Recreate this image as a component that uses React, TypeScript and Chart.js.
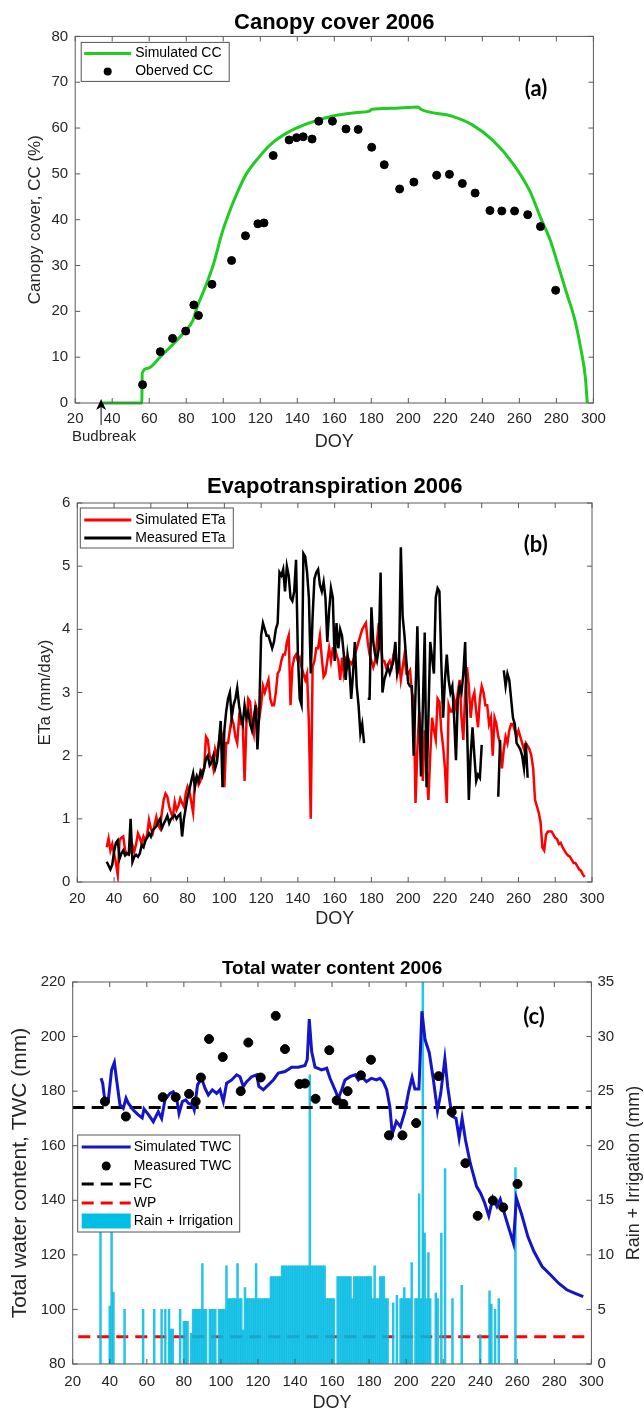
import React, { useEffect, useRef } from 'react';
import { Chart, registerables } from 'chart.js';

Chart.register(...registerables);

const FONT = '"Liberation Sans", Arial, Helvetica, sans-serif';
const TICK = '#262626';
const BOX = '#5a5a5a';
const GREEN = '#1fcc1f';
const BLUE = '#1414c8';
const CYAN = 'rgba(0,186,226,0.85)';

// ---------- (a) Canopy cover ----------
const ccSimDoy = [35, 56, 56.2, 59.3, 66, 72.6, 79.2, 83.7, 85.9, 90.3, 94.8, 99.2, 103.6, 108, 112.5, 119.2, 125.8, 134.7, 143.6, 152.5, 161.3, 172.4, 179, 180.2, 190.2, 205.3, 206.8, 223.5, 234.6, 245.7, 256.8, 265.6, 271.4, 276.7, 281.2, 285.6, 290, 293.3, 295.6, 296.7];
const ccSimVal = [0, 0, 6.5, 7.6, 10.1, 12.7, 15.6, 18.1, 21, 25.3, 30.4, 36.9, 42, 46.3, 50, 53.6, 56.5, 59, 60.7, 61.9, 62.8, 63.4, 63.7, 64.1, 64.3, 64.6, 64.1, 62.6, 60.7, 57.3, 52.1, 46.3, 40.5, 35.5, 29.7, 23.9, 18.1, 11.6, 5.8, 0];
const ccObsDoy = [56.4, 66, 72.6, 79.7, 84.1, 86.6, 93.9, 104.5, 112, 118.7, 122, 127, 135.6, 139.6, 143.2, 148, 151.6, 159, 166.3, 172.9, 180.2, 187, 195.3, 203, 215.3, 222.2, 229.2, 236.1, 244.1, 250.5, 257.4, 264.5, 271.4, 279.6];
const ccObsVal = [4.0, 11.2, 14.1, 15.7, 21.4, 19.1, 25.9, 31.1, 36.5, 39.1, 39.3, 54, 57.4, 57.9, 58.1, 57.6, 61.5, 61.5, 59.8, 59.7, 55.8, 52, 46.7, 48.2, 49.7, 49.9, 47.9, 45.8, 42, 41.9, 41.9, 41.1, 38.5, 24.6];
const budbreakDoy = 34;

// ---------- (b) Evapotranspiration ----------
const etSimStart = 36;
const etSim = [
  0.55, 0.69, 0.5, 0.6, 0.45, 0.3, 0.11, 0.66, 0.7, 0.72,
  0.5, 0.45, 0.43, 0.5, 0.58, 0.48, 0.6, 0.77, 0.7, 0.6,
  0.72, 0.65, 0.75, 0.98, 0.85, 0.77, 0.9, 1.03, 0.9, 0.85,
  1.1, 1.3, 1.4, 1.35, 1.19, 1.1, 1.03, 1.27, 1.14, 1.2,
  1.32, 1.25, 1.19, 1.4, 1.51, 1.43, 1.27, 1.1, 1.6, 1.67,
  1.54, 1.6, 1.77, 1.8, 2.3, 2.25, 2.0, 1.95, 1.8, 2.1,
  2.0, 2.2, 2.4, 2.3, 1.5, 2.2, 2.2, 2.4, 2.6, 2.5,
  2.3, 2.2, 2.6, 2.5, 2.5, 1.6, 2.5, 2.9, 2.85, 2.5,
  2.35, 2.8, 2.7, 2.6, 2.8, 3.1, 3.0, 3.1, 3.2, 2.9,
  2.8, 2.8, 3.0, 3.3, 3.35, 3.5, 3.6, 3.6, 3.8, 3.9,
  2.8, 3.4, 3.55, 3.6, 3.5, 3.55, 3.4, 3.3, 3.2, 3.3,
  2.5, 1.0, 3.4, 3.5, 3.7, 3.7, 3.9, 3.55, 3.25, 3.3,
  3.5, 3.7, 3.5, 3.7, 3.7, 3.6, 3.5, 3.2, 3.55, 3.3,
  3.5, 3.4, 3.5, 3.45, 3.5, 3.6, 3.7, 3.8, 3.9, 4.0,
  4.05, 4.1, 3.8, 3.6, 3.5, 3.4, 3.5, 3.8, 4.1, 3.8,
  3.5, 3.5, 3.4, 3.45, 3.5, 3.4, 3.6, 3.7, 3.3, 3.5,
  3.2, 3.4, 3.6, 3.3, 3.3, 3.35, 3.0, 2.9, 1.25, 2.1,
  2.7, 2.2, 1.6, 2.4, 1.8, 1.3, 2.0, 2.6, 2.4, 2.25,
  2.9, 2.85, 2.4, 2.15, 1.8, 1.25, 2.8, 2.7, 2.7, 2.9,
  2.75, 3.0, 3.2, 2.6, 2.25, 3.0, 3.4, 3.1, 2.6, 2.9,
  3.0, 2.7, 2.45, 2.9, 3.1, 3.0, 2.8, 2.8, 2.5, 2.6,
  2.0, 2.6, 2.5, 2.3, 2.2, 1.8, 2.1, 2.3, 2.2, 2.4,
  2.5, 2.5, 2.4, 2.3, 2.4, 2.3, 2.2, 2.1, 2.2, 2.15,
  2.1, 2.0, 1.8, 1.3, 1.2, 1.1, 0.95, 0.55, 0.5, 0.75,
  0.8, 0.8, 0.8, 0.75, 0.7, 0.68, 0.6, 0.62, 0.55, 0.5,
  0.45, 0.42, 0.4, 0.35, 0.3, 0.3, 0.25, 0.2, 0.18, 0.12,
  0.08,
];
const etMeasStart = 36;
const etMeas = [
  0.32, 0.26, 0.2, 0.27, 0.48, 0.62, 0.66, 0.37, 0.45, 0.5,
  0.42, 0.45, 0.44, 1.0, 0.32, 0.4, 0.43, 0.4, 0.45, 0.58,
  0.55, 0.66, 0.7, 0.77, 0.72, 0.82, 0.85, 0.88, 0.95, 1.0,
  0.85, 0.92, 0.98, 1.05, 0.93, 1.0, 1.03, 1.06, 1.0, 1.05,
  1.08, 0.72, 1.0, 1.17, 1.35, 1.46, 1.6, 1.72, 1.5, 1.67,
  1.6, 1.75, 1.68, 1.8, 1.95, 2.0, 1.85, 1.9, 2.0, 1.8,
  1.9, 2.2, 2.55, 1.5, 2.4, 2.7, 2.9, 3.0, 2.6, 2.8,
  2.9, 3.07, 2.8, 2.6, 2.5, 2.8, 2.6, 2.7, 2.5, 2.4,
  2.6, 2.8, 2.1, 2.7, 3.9, 4.1, 4.0, 3.9, 3.9, 3.8,
  3.7, 3.8, 4.0, 4.1, 4.9, 4.85, 4.95, 4.6, 5.0, 4.85,
  4.5, 4.45, 4.6, 5.1, 3.6, 2.9, 2.8, 5.2, 5.15, 4.9,
  4.5, 3.3, 4.2, 4.8, 4.9, 4.95, 4.7, 4.6, 4.75, 4.5,
  3.8, 4.3, 4.65, 4.5, 3.5, 4.1, 3.7, 4.0, 3.9, 3.6,
  3.2, 3.6, 3.4, 2.9, 3.3, 3.8, 3.1, 2.8, 2.35, 2.5,
  2.2, null, 2.9, 2.9, 4.35, 3.8, 3.6, 3.5, 3.7, 4.9,
  3.0, 3.2, 3.3, 3.4, 3.3, 3.4, 3.5, 3.8, 3.3, 3.4,
  5.3, 4.2, 3.9, 3.5, 3.15, 3.1, 3.1, 2.0, 3.0, 4.05,
  2.7, 1.67, 2.8, 3.95, 1.5, 2.6, 3.8, 3.55, 3.3, 4.5,
  4.65, 4.6, 3.5, 2.6, 3.2, 3.6, 3.2, 3.0, 3.1, 2.6,
  1.93, 2.9, 3.1, 3.0, 3.3, 3.8, 2.5, 1.3, 2.0, 2.45,
  2.0, 1.6, 1.7, 1.65, 2.17, null, null, null, null, null,
  null, null, null, 1.35, 2.25, null, 3.35, 3.1, 3.3, 3.2,
  2.9, 2.6, 2.5, 2.2, 2.15, 2.1, 2.0, 1.8, 2.2, 1.65,
];

// ---------- (c) Total water content ----------
const twcSimDoy = [35.3, 36.2, 37.4, 39.2, 41, 42.5, 43.7, 45.5, 47.3, 48.8, 50, 52.7, 55.4, 57.5, 58.5, 60.8, 63.5, 66.2, 68, 69.8, 72.5, 74.3, 76.1, 77.4, 79.2, 81, 82.4, 84.6, 85.6, 87.4, 89.6, 91.4, 93.2, 95.4, 97.7, 99.5, 101.3, 103.1, 105.8, 108.5, 110.3, 112.1, 113.9, 116.6, 119.3, 120.5, 122.9, 125.6, 128.3, 131, 134.6, 138.2, 141.8, 145.4, 146.6, 147.7, 149, 150.8, 154.4, 157.1, 158.9, 161.6, 163.4, 165.2, 167, 169.7, 172.4, 174.2, 176, 178.6, 181.3, 184, 185.8, 187.6, 189.5, 191.2, 192.5, 194.7, 196.9, 199.2, 201.4, 203.2, 204.7, 206.9, 208.5, 210.2, 212.5, 214.7, 216.9, 218.7, 220.9, 222.4, 224.7, 226.9, 228.6, 230.2, 232, 234.6, 238, 240.2, 242.4, 244.6, 246.8, 249, 250.8, 253.5, 255.7, 257.9, 259.5, 262.4, 265.7, 269, 273.4, 277.9, 282.3, 286.7, 291.2, 295.6];
const twcSimVal = [184.7, 182.9, 176.2, 176.5, 187.8, 190.5, 184.1, 175, 173.7, 177.4, 175.6, 173.1, 171.3, 170.2, 173.5, 171.5, 168.8, 172.5, 170, 176.8, 179.2, 179.8, 177.4, 171.9, 176.2, 176.8, 175.6, 175, 173.1, 182.3, 184.7, 181.1, 178.6, 180.5, 179.2, 180.5, 176.2, 182.9, 184.1, 186, 185.3, 181.7, 183.5, 185.3, 186, 181.7, 180.5, 182.3, 184.1, 186.6, 187.2, 188.8, 188.8, 189.4, 191.5, 206.4, 194.5, 188.8, 187.8, 188.4, 184.7, 180.5, 177.4, 180.5, 184.1, 185.3, 186, 184.1, 185.3, 183.5, 184.7, 184.1, 184.7, 183.5, 180.5, 174.3, 164.2, 168.9, 167, 172.2, 179.9, 185, 180.8, 180.8, 209.3, 198.9, 194, 184.2, 172.8, 179.3, 191.9, 181.8, 170.8, 170.1, 162.8, 170.1, 162.2, 153.6, 145.1, 142.6, 139, 134.3, 140.8, 137.7, 140.4, 134.1, 129.2, 124.3, 140.8, 134.7, 126.7, 121.2, 115.7, 112.7, 109.6, 107.2, 105.9, 104.7];
const twcObsDoy = [37.4, 48.7, 68.6, 75.6, 82.8, 86.4, 89.2, 93.6, 101, 110.7, 114.8, 121.5, 129.6, 134.6, 142.4, 145.4, 151.1, 158.5, 162.5, 166.1, 168.4, 175.6, 181, 190.7, 198, 205.4, 217.5, 224.6, 232, 238.6, 246.8, 252.4, 260.1];
const twcObsVal = [176.2, 170.7, 177.8, 177.8, 179, 176.2, 185, 199.1, 192.5, 180, 197.8, 185, 207.6, 195.4, 182.6, 182.8, 177.2, 195, 176.6, 175.3, 180, 185.8, 191.5, 163.8, 163.8, 168.3, 185.5, 172.4, 153.6, 134.3, 139.9, 137.4, 146];
const fieldCapacity = 174;
const wiltingPoint = 90;
const rainStart = 35;
const rainMm = [
  15, 0, 0, 0, 0, 5.3, 15, 6.6, 0, 0,
  0, 0, 0, 5, 0, 0, 0, 0, 0, 0,
  0, 0, 0, 5, 0, 0, 0, 0, 0, 5,
  0, 0, 0, 5, 0, 5, 0, 5, 3.2, 3.2,
  0, 0, 0, 5, 0, 3.9, 3.9, 3.9, 0, 2.8,
  5, 5, 5, 5, 5, 9.2, 5, 5, 0, 5,
  5, 5, 5, 0, 5, 5, 5, 5, 9, 6,
  6, 6, 6, 6, 9.2, 6, 6, 3.1, 7, 6,
  6, 6, 6, 6, 9.2, 6, 6, 6, 6, 6,
  6, 6, 8, 8, 8, 8, 8, 8, 9, 9,
  9, 9, 9, 9, 9, 9, 9, 9, 9, 9,
  9, 9, 9, 26.5, 9, 9, 9, 9, 9, 9,
  9, 9, 6, 6, 6, 6, 6, 0, 8, 8,
  8, 8, 8, 8, 8, 8, 6, 8, 8, 8,
  8, 8, 8, 8, 8, 8, 8, 6, 9, 6,
  6, 8, 8, 8, 6, 6, 0, 0, 5.6, 0,
  6.3, 0, 6, 6, 7, 6, 6, 6, 9.3, 0,
  6, 6, 15.6, 6, 35, 12, 6, 10.2, 6, 0,
  0, 6.5, 6, 0, 12, 0, 17.9, 0, 0, 0,
  6, 0, 0, 0, 0, 7.2, 0, 0, 0, 0,
  0, 0, 0, 0, 0, 2.7, 0, 0, 0, 0,
  6.7, 5.5, 0, 5, 0, 6, 0, 0, 0, 0,
  0, 0, 0, 0, 18, 0,
];

const pairs = (xs: number[], ys: (number | null)[]) => xs.map((x, i) => ({ x, y: ys[i] }));
const series = (start: number, ys: (number | null)[]) => ys.map((y, i) => ({ x: start + i, y }));

// ---------- plugin: MATLAB style frame, inward ticks, legend, labels ----------
const framePlugin: any = {
  id: 'frame',
  afterDraw(chart: any, _args: any, o: any) {
    const { ctx, chartArea: ca, scales } = chart;
    ctx.save();
    const L = 5;
    ctx.strokeStyle = BOX;
    ctx.lineWidth = 1;
    ctx.setLineDash([]);
    ctx.strokeRect(ca.left, ca.top, ca.right - ca.left, ca.bottom - ca.top);
    ctx.beginPath();
    scales.x.ticks.forEach((t: any) => {
      const px = scales.x.getPixelForValue(t.value);
      ctx.moveTo(px, ca.bottom); ctx.lineTo(px, ca.bottom - L);
      ctx.moveTo(px, ca.top); ctx.lineTo(px, ca.top + L);
    });
    scales.y.ticks.forEach((t: any) => {
      const py = scales.y.getPixelForValue(t.value);
      ctx.moveTo(ca.left, py); ctx.lineTo(ca.left + L, py);
      if (!scales.y1) { ctx.moveTo(ca.right, py); ctx.lineTo(ca.right - L, py); }
    });
    if (scales.y1) {
      scales.y1.ticks.forEach((t: any) => {
        const py = scales.y1.getPixelForValue(t.value);
        ctx.moveTo(ca.right, py); ctx.lineTo(ca.right - L, py);
      });
    }
    ctx.stroke();

    // budbreak annotation
    if (o.budbreak) {
      const px = scales.x.getPixelForValue(o.budbreak.doy);
      ctx.fillStyle = '#000';
      ctx.beginPath();
      ctx.moveTo(px, ca.bottom - 4);
      ctx.lineTo(px - 5, ca.bottom + 7);
      ctx.lineTo(px, ca.bottom + 4);
      ctx.lineTo(px + 5, ca.bottom + 7);
      ctx.closePath();
      ctx.fill();
      ctx.strokeStyle = '#333';
      ctx.lineWidth = 1.2;
      ctx.beginPath();
      ctx.moveTo(px, ca.bottom + 4);
      ctx.lineTo(px, ca.bottom + 22);
      ctx.stroke();
      ctx.fillStyle = TICK;
      ctx.font = `15px ${FONT}`;
      ctx.textAlign = 'center';
      ctx.textBaseline = 'middle';
      ctx.fillText(o.budbreak.text, px + 3, ca.bottom + 34);
    }

    // panel tag
    if (o.tag) {
      ctx.fillStyle = '#000';
      ctx.font = `bold 22px Lato, "Open Sans", sans-serif`;
      ctx.textAlign = 'center';
      ctx.textBaseline = 'middle';
      ctx.fillText(o.tag.text, scales.x.getPixelForValue(o.tag.x), scales.y.getPixelForValue(o.tag.y));
    }

    // right axis title (reads bottom to top)
    if (o.rightTitle) {
      ctx.save();
      ctx.translate(o.rightTitle.x, (ca.top + ca.bottom) / 2);
      ctx.rotate(-Math.PI / 2);
      ctx.fillStyle = TICK;
      ctx.font = `${o.rightTitle.size}px ${FONT}`;
      ctx.textAlign = 'center';
      ctx.textBaseline = 'middle';
      ctx.fillText(o.rightTitle.text, 0, 0);
      ctx.restore();
    }

    // legend
    if (o.legend) {
      const lg = o.legend;
      const bx = ca.left + lg.x, by = ca.top + lg.y;
      ctx.fillStyle = '#fff';
      ctx.fillRect(bx, by, lg.w, lg.h);
      ctx.strokeStyle = '#555';
      ctx.lineWidth = 1;
      ctx.setLineDash([]);
      ctx.strokeRect(bx, by, lg.w, lg.h);
      const sx0 = ca.left + lg.sx0, sx1 = ca.left + lg.sx1;
      lg.items.forEach((it: any) => {
        const y = ca.top + it.y;
        if (it.kind === 'line') {
          ctx.strokeStyle = it.color;
          ctx.lineWidth = it.width || 3;
          ctx.setLineDash(it.dash || []);
          ctx.beginPath();
          ctx.moveTo(sx0, y);
          ctx.lineTo(sx1, y);
          ctx.stroke();
          ctx.setLineDash([]);
        } else if (it.kind === 'dot') {
          ctx.fillStyle = it.color;
          ctx.beginPath();
          ctx.arc((sx0 + sx1) / 2, y, it.r || 4, 0, Math.PI * 2);
          ctx.fill();
        } else if (it.kind === 'rect') {
          ctx.fillStyle = it.color;
          ctx.fillRect(sx0, y - 7.5, sx1 - sx0, 15);
        }
        ctx.fillStyle = '#000';
        ctx.font = `14px ${FONT}`;
        ctx.textAlign = 'left';
        ctx.textBaseline = 'middle';
        ctx.fillText(it.label, ca.left + lg.tx, y);
      });
    }
    ctx.restore();
  },
};

const xAxis = (height: number, pad: number, titleSize: number, titlePadBottom: number) => ({
  type: 'linear',
  position: 'bottom',
  min: 20,
  max: 300,
  offset: false,
  ticks: { stepSize: 20, padding: pad, autoSkip: false, maxRotation: 0, font: { family: FONT, size: 15 }, color: TICK },
  grid: { display: false, drawTicks: false, offset: false },
  border: { display: false },
  title: { display: true, text: 'DOY', color: TICK, font: { family: FONT, size: titleSize }, padding: { top: 0, bottom: titlePadBottom } },
  afterFit: (s: any) => { s.height = height; },
});

const yAxis = (min: number, max: number, step: number, width: number, title: string, titleSize: number, titlePadTop: number) => ({
  type: 'linear',
  position: 'left',
  min,
  max,
  ticks: { stepSize: step, padding: 7, font: { family: FONT, size: 15 }, color: TICK },
  grid: { display: false, drawTicks: false },
  border: { display: false },
  title: { display: true, text: title, color: TICK, font: { family: FONT, size: titleSize }, padding: { top: titlePadTop, bottom: 0 } },
  afterFit: (s: any) => { s.width = width; },
});

const chartTitle = (text: string, size: number, top: number, bottom: number) => ({
  display: true,
  text,
  color: '#000',
  fullSize: false,
  font: { family: FONT, size, weight: 'bold' },
  padding: { top, bottom },
});

function configA(): any {
  return {
    type: 'line',
    data: {
      datasets: [
        { label: 'Simulated CC', data: pairs(ccSimDoy, ccSimVal), borderColor: GREEN, borderWidth: 3, pointRadius: 0, cubicInterpolationMode: 'monotone', order: 1, clip: 8 },
        { type: 'scatter', label: 'Oberved CC', data: pairs(ccObsDoy, ccObsVal), backgroundColor: '#000', borderColor: '#000', pointRadius: 4, showLine: false, order: 0 },
      ],
    },
    options: {
      responsive: false,
      animation: false,
      events: [],
      layout: { padding: { left: 0, right: 644 - 593.4, top: 0, bottom: 0 } },
      scales: {
        x: xAxis(57, 7, 18, 7.2),
        y: yAxis(0, 80, 10, 75.2, 'Canopy cover, CC (%)', 17, 24.8),
      },
      plugins: {
        legend: { display: false },
        tooltip: { enabled: false },
        title: chartTitle('Canopy cover 2006', 22, 10, 0),
        frame: {
          budbreak: { doy: budbreakDoy, text: 'Budbreak' },
          tag: { text: '(a)', x: 269, y: 68.5 },
          legend: {
            x: 6, y: 6, w: 148, h: 39, sx0: 9, sx1: 56, tx: 60,
            items: [
              { kind: 'line', label: 'Simulated CC', color: GREEN, width: 3, y: 17 },
              { kind: 'dot', label: 'Oberved CC', color: '#000', r: 4, y: 35 },
            ],
          },
        },
      },
    },
    plugins: [framePlugin],
  };
}

function configB(): any {
  return {
    type: 'line',
    data: {
      datasets: [
        { label: 'Simulated ETa', data: series(etSimStart, etSim), borderColor: '#ff0000', borderWidth: 2.5, pointRadius: 0, order: 1 },
        { label: 'Measured ETa', data: series(etMeasStart, etMeas), borderColor: '#000', borderWidth: 2.5, pointRadius: 0, spanGaps: false, order: 0 },
      ],
    },
    options: {
      responsive: false,
      animation: false,
      events: [],
      layout: { padding: { left: 0, right: 644 - 592, top: 0, bottom: 0 } },
      scales: {
        x: xAxis(48, 8, 18, 0),
        y: yAxis(0, 6, 1, 77.3, 'ETa (mm/day)', 17, 34.8),
      },
      plugins: {
        legend: { display: false },
        tooltip: { enabled: false },
        title: chartTitle('Evapotranspiration 2006', 22, 13.8, 2.8),
        frame: {
          tag: { text: '(b)', x: 269.4, y: 5.33 },
          legend: {
            x: 3, y: 5, w: 153, h: 40, sx0: 7, sx1: 54, tx: 58,
            items: [
              { kind: 'line', label: 'Simulated ETa', color: '#ff0000', width: 3, y: 17 },
              { kind: 'line', label: 'Measured ETa', color: '#000', width: 3, y: 35 },
            ],
          },
        },
      },
    },
    plugins: [framePlugin],
  };
}

function configC(): any {
  return {
    type: 'bar',
    data: {
      datasets: [
        { type: 'scatter', label: 'Measured TWC', data: pairs(twcObsDoy, twcObsVal), backgroundColor: '#000', borderColor: '#000', pointRadius: 4.5, showLine: false, yAxisID: 'y', order: 0 },
        { type: 'line', label: 'Simulated TWC', data: pairs(twcSimDoy, twcSimVal), borderColor: BLUE, borderWidth: 3, pointRadius: 0, yAxisID: 'y', order: 1 },
        { type: 'line', label: 'FC', data: [{ x: 20, y: fieldCapacity }, { x: 300, y: fieldCapacity }], borderColor: '#000', borderWidth: 3, borderDash: [12, 7], pointRadius: 0, yAxisID: 'y', order: 2 },
        { type: 'bar', label: 'Rain + Irrigation', data: series(rainStart, rainMm), backgroundColor: CYAN, borderWidth: 0, barPercentage: 1, categoryPercentage: 1, yAxisID: 'y1', order: 3 },
        { type: 'line', label: 'WP', data: [{ x: 23, y: wiltingPoint }, { x: 300, y: wiltingPoint }], borderColor: '#ff0000', borderWidth: 3, borderDash: [12, 7], pointRadius: 0, yAxisID: 'y', order: 4 },
      ],
    },
    options: {
      responsive: false,
      animation: false,
      events: [],
      layout: { padding: { left: 0, right: 0, top: 0, bottom: 0 } },
      scales: {
        x: xAxis(46, 9, 18, -3.8),
        y: yAxis(80, 220, 20, 72.7, 'Total water content, TWC (mm)', 21, 7.9),
        y1: {
          type: 'linear',
          position: 'right',
          min: 0,
          max: 35,
          ticks: { stepSize: 5, padding: 6, font: { family: FONT, size: 15 }, color: TICK },
          grid: { display: false, drawTicks: false },
          border: { display: false },
          title: { display: false },
          afterFit: (s: any) => { s.width = 644 - 591.4; },
        },
      },
      plugins: {
        legend: { display: false },
        tooltip: { enabled: false },
        title: chartTitle('Total water content 2006', 19, 27.6, 1.6),
        frame: {
          tag: { text: '(c)', x: 269, y: 207.2 },
          rightTitle: { text: 'Rain + Irrigation (mm)', size: 18, x: 634 },
          legend: {
            x: 5, y: 153, w: 162, h: 97, sx0: 9, sx1: 58, tx: 61,
            items: [
              { kind: 'line', label: 'Simulated TWC', color: BLUE, width: 3, y: 165 },
              { kind: 'dot', label: 'Measured TWC', color: '#000', r: 4.5, y: 184 },
              { kind: 'line', label: 'FC', color: '#000', width: 3, dash: [12, 7], y: 202 },
              { kind: 'line', label: 'WP', color: '#ff0000', width: 3, dash: [12, 7], y: 221 },
              { kind: 'rect', label: 'Rain + Irrigation', color: 'rgb(0,190,228)', y: 239 },
            ],
          },
        },
      },
    },
    plugins: [framePlugin],
  };
}

function ChartCanvas({ top, height, build }: { top: number; height: number; build: () => any }) {
  const ref = useRef<HTMLCanvasElement>(null);
  useEffect(() => {
    const chart = new Chart(ref.current as HTMLCanvasElement, build());
    return () => chart.destroy();
  }, []);
  return (
    <canvas
      ref={ref}
      width={644}
      height={height}
      style={{ position: 'absolute', left: 0, top, width: 644, height, display: 'block' }}
    />
  );
}

export default function App() {
  return (
    <div style={{ position: 'absolute', left: 0, top: 0, width: 644, height: 1410, overflow: 'hidden', background: '#fff' }}>
      <ChartCanvas top={0} height={460} build={configA} />
      <ChartCanvas top={460} height={470} build={configB} />
      <ChartCanvas top={930} height={480} build={configC} />
    </div>
  );
}
